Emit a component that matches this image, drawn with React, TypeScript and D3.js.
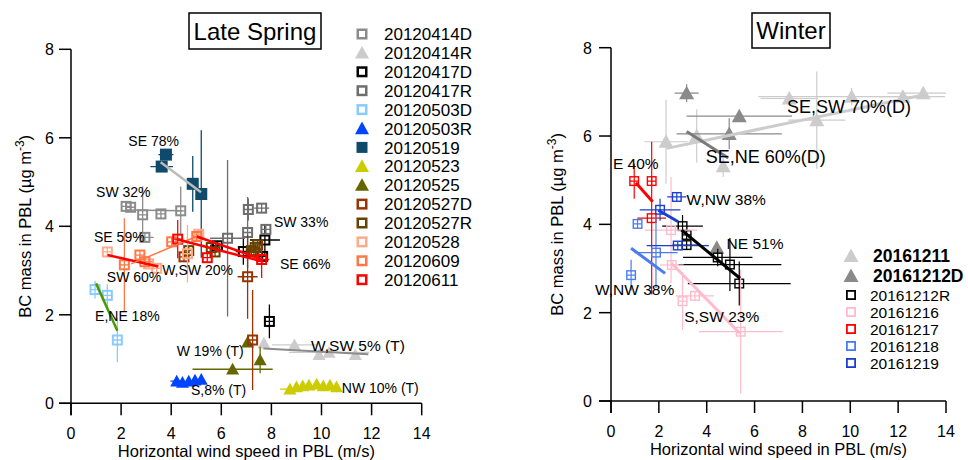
import React from 'react';
import * as d3 from 'd3';

// [wind speed, BC mass, wind error, BC error]
type Pt = [number, number, number, number];

// ---------- Late spring ----------
const s20120414D: Pt[] = [
  [2.2, 4.45, 0, 0], [2.38, 4.43, 0, 0], [2.86, 4.26, 0, 0.64], [3.59, 4.28, 0, 0],
  [4.38, 4.35, 0, 0.55], [2.95, 3.75, 0.35, 0],
];
const s20120414R: Pt[] = [
  [7.7, 1.36, 0, 0], [8.92, 1.32, 0.9, 0], [9.9, 1.1, 0, 0], [10.3, 1.15, 1.6, 0], [11.35, 1.1, 0, 0],
];
const s20120417D: Pt[] = [
  [5.85, 3.56, 0.3, 0], [6.88, 3.43, 0.3, 0.3], [7.74, 3.69, 0.6, 0.35], [7.65, 3.32, 0, 0], [7.92, 1.85, 0, 0.38],
];
const s20120417R: Pt[] = [
  [7.08, 4.38, 0, 0.25], [7.61, 4.41, 0.3, 0], [7.05, 3.86, 0, 0.8], [7.78, 3.93, 0, 0], [6.25, 3.73, 0.7, 1.77],
];
const s20120503D: Pt[] = [
  [0.96, 2.57, 0, 0.2], [1.45, 2.44, 0.2, 0.25], [1.85, 1.43, 0, 0.5],
];
const s20120503R: Pt[] = [
  [4.22, 0.5, 0.25, 0], [4.45, 0.47, 0, 0], [4.7, 0.5, 0, 0], [4.95, 0.52, 0, 0], [5.2, 0.54, 0, 0],
];
const s20120519: Pt[] = [
  [3.79, 5.62, 0.3, 0.1], [3.62, 5.35, 0.45, 0], [4.86, 4.96, 0, 0.63], [5.2, 4.73, 0, 1.44],
];
const s20120523: Pt[] = [
  [8.74, 0.32, 0.4, 0], [9.0, 0.37, 0, 0], [9.25, 0.39, 0, 0], [9.5, 0.41, 0, 0], [9.81, 0.43, 0, 0],
  [10.07, 0.39, 0, 0], [10.34, 0.41, 0, 0], [10.6, 0.37, 0, 0],
];
const s20120525: Pt[] = [
  [6.45, 0.77, 1.6, 0], [7.55, 0.98, 0, 0.3], [7.05, 1.38, 0, 0],
];
const s20120527D: Pt[] = [
  [4.51, 3.31, 0, 0], [7.05, 2.86, 0.4, 0.95], [7.25, 1.43, 0, 1.13], [7.3, 3.42, 0, 0],
];
const s20120527R: Pt[] = [
  [4.7, 3.45, 0, 0], [5.6, 3.52, 0, 0], [5.75, 3.42, 0, 0], [7.2, 3.45, 0, 0], [7.35, 3.52, 0, 0], [7.45, 3.58, 0, 0],
];
const s20120528: Pt[] = [
  [1.45, 3.42, 0, 0], [3.1, 3.15, 0, 0], [3.42, 3.05, 0, 0], [4.65, 3.38, 0, 0.65], [5.1, 3.82, 0, 0],
];
const s20120609: Pt[] = [
  [2.13, 3.13, 0, 1.05], [2.75, 3.35, 0, 0], [2.95, 3.2, 0.3, 0], [4.02, 3.65, 0, 0], [5.02, 3.77, 0, 0],
];
const s20120611: Pt[] = [
  [4.26, 3.71, 0, 0.43], [5.44, 3.29, 0, 0], [7.61, 3.25, 0.3, 0.42],
];

// fitted trend lines: [x1, y1, x2, y2]
const springFitColors = ['#bbbbbb', '#8c8c8c', '#4a9a00', '#ff0000', '#ff7744', '#ff0000', '#ff0000', '#8c8c8c'];
const springFits: number[][] = [
  [3.58, 5.45, 5.19, 4.77],
  [2.22, 4.37, 4.45, 4.35],
  [1.0, 2.71, 1.85, 1.64],
  [1.46, 3.35, 3.49, 3.09],
  [2.4, 3.15, 5.05, 3.78],
  [4.26, 3.7, 7.68, 3.2],
  [5.02, 3.77, 7.61, 3.26],
  [7.68, 1.24, 11.87, 1.11],
];
const springWidths = [2.5, 1.5, 2.5, 2.5, 1.5, 2.5, 2.5, 2];

const springLabels = ['SE 78%', 'SW 32%', 'SW 33%', 'SE 59%', 'SE 66%', 'SW 60%', 'W,SW 20%', 'E,NE 18%', 'W 19% (T)', 'W,SW 5% (T)', 'S,8% (T)', 'NW 10% (T)'];
const springLabelPos: number[][] = [
  [2.29, 5.93], [1.0, 4.78], [8.1, 4.1], [0.92, 3.75], [8.34, 3.15], [1.43, 2.86],
  [3.64, 3.01], [0.96, 1.97], [4.22, 1.19], [9.58, 1.3], [4.79, 0.3], [10.81, 0.34],
];
const springLabelSize = [14, 14, 14, 14, 14, 14, 14, 14, 14, 15.5, 14, 14];

// ---------- Winter ----------
const w20161211: Pt[] = [
  [2.3, 5.87, 0.9, 0.95], [3.58, 6.0, 0, 0.6], [4.69, 5.32, 0, 0.25], [7.45, 6.85, 1.2, 0],
  [8.6, 6.36, 1.2, 1.1], [10.06, 6.89, 3.9, 0.2], [12.2, 6.89, 1.0, 0], [13.05, 6.97, 1.5, 0],
];
const w20161212D: Pt[] = [
  [3.16, 6.97, 0.5, 0.2], [5.36, 6.45, 2.2, 0], [4.94, 6.05, 2.2, 0.35], [4.42, 3.47, 0, 0],
];
const w20161212R: Pt[] = [
  [2.99, 3.96, 0.85, 0.25], [3.16, 3.76, 0, 0], [3.16, 3.53, 0.6, 0], [4.46, 3.25, 1.45, 0.2],
  [4.97, 3.09, 2.15, 0.6], [5.36, 2.66, 2.15, 0.5],
];
const w20161216: Pt[] = [
  [2.51, 3.87, 1.1, 1.2], [2.54, 3.08, 0.5, 0], [2.99, 2.26, 0, 0.65], [3.51, 2.38, 0.8, 0], [5.42, 1.57, 1.75, 1.4],
];
const w20161217: Pt[] = [
  [0.97, 4.98, 0, 0.4], [1.7, 4.98, 0, 0], [1.7, 4.14, 0.6, 1.73],
];
const w20161218: Pt[] = [
  [1.11, 4.01, 0, 0], [1.88, 3.36, 0.9, 0.8], [0.84, 2.85, 0, 0.35],
];
const w20161219: Pt[] = [
  [2.05, 4.33, 0.85, 0.25], [2.75, 4.62, 0.4, 0], [2.79, 3.52, 1.3, 0],
];

const winterFitColors = ['#cccccc', '#7a7a7a', '#000000', '#ffbbcc', '#ff0000', '#1a3fd0', '#4a7cf0'];
const winterFits: number[][] = [
  [2.33, 5.72, 13.05, 6.93],
  [3.16, 6.1, 4.9, 5.5],
  [2.95, 3.87, 5.39, 2.78],
  [2.53, 3.12, 5.39, 1.53],
  [1.04, 4.94, 1.74, 4.51],
  [1.98, 4.32, 2.81, 4.06],
  [0.84, 3.46, 2.26, 2.89],
];

const winterLabels = ['SE,SW 70%(D)', 'SE,NE 60%(D)', 'E 40%', 'W,NW 38%', 'NE 51%', 'W,NW 38%', 'S,SW 23%'];
const winterLabelPos: number[][] = [
  [7.35, 6.66], [3.96, 5.53], [0.08, 5.37], [3.16, 4.57], [4.83, 3.57], [-0.67, 2.53], [3.06, 1.92],
];
const winterLabelSize = [18, 18, 15.5, 15.5, 15.5, 15.5, 15.5];

const xTicks = [0, 2, 4, 6, 8, 10, 12, 14];
const yTicks = [0, 2, 4, 6, 8];

type Shape = 'open' | 'filled' | 'tri';
interface Series { name: string; color: string; shape: Shape; pts: Pt[]; bold?: boolean }

const springSeries: Series[] = [
  { name: '20120414D', color: '#8c8c8c', shape: 'open', pts: s20120414D },
  { name: '20120414R', color: '#cccccc', shape: 'tri', pts: s20120414R },
  { name: '20120417D', color: '#000000', shape: 'open', pts: s20120417D },
  { name: '20120417R', color: '#6e6e6e', shape: 'open', pts: s20120417R },
  { name: '20120503D', color: '#88ccff', shape: 'open', pts: s20120503D },
  { name: '20120503R', color: '#0044ff', shape: 'tri', pts: s20120503R },
  { name: '20120519', color: '#0d4a6c', shape: 'filled', pts: s20120519 },
  { name: '20120523', color: '#cccc00', shape: 'tri', pts: s20120523 },
  { name: '20120525', color: '#666600', shape: 'tri', pts: s20120525 },
  { name: '20120527D', color: '#993300', shape: 'open', pts: s20120527D },
  { name: '20120527R', color: '#664400', shape: 'open', pts: s20120527R },
  { name: '20120528', color: '#ffaa88', shape: 'open', pts: s20120528 },
  { name: '20120609', color: '#ff7744', shape: 'open', pts: s20120609 },
  { name: '20120611', color: '#ff0000', shape: 'open', pts: s20120611 },
];

const winterSeries: Series[] = [
  { name: '20161211', color: '#cccccc', shape: 'tri', pts: w20161211, bold: true },
  { name: '20161212D', color: '#8a8a8a', shape: 'tri', pts: w20161212D, bold: true },
  { name: '20161212R', color: '#000000', shape: 'open', pts: w20161212R },
  { name: '20161216', color: '#ffbbcc', shape: 'open', pts: w20161216 },
  { name: '20161217', color: '#ff0000', shape: 'open', pts: w20161217 },
  { name: '20161218', color: '#4a7cf0', shape: 'open', pts: w20161218 },
  { name: '20161219', color: '#1a3fd0', shape: 'open', pts: w20161219 },
];

const FONT = 'Liberation Sans, Arial, sans-serif';

function Marker({ shape, color, x, y, size, sw }: { shape: Shape; color: string; x: number; y: number; size: number; sw: number }) {
  if (shape === 'tri') {
    const h = size * 0.9;
    return <path d={`M${x},${y - h * 0.55}L${x + size / 2},${y + h * 0.45}L${x - size / 2},${y + h * 0.45}Z`} fill={color} />;
  }
  if (shape === 'filled') {
    return <rect x={x - size / 2} y={y - size / 2} width={size} height={size} fill={color} />;
  }
  const s = size - sw;
  return <rect x={x - s / 2} y={y - s / 2} width={s} height={s} fill="none" stroke={color} strokeWidth={sw} />;
}

interface PanelProps {
  id: string;
  x0: number; x1: number; y0: number; y1: number;
  series: Series[];
  fits: number[][]; fitColors: string[]; fitWidths: number[];
  labels: string[]; labelPos: number[][]; labelSize: number[];
  msize: number; msw: number; triSize: number; ebw: number; filledSize: number;
  title: string; titleBox: [number, number, number, number];
  yLabelX: number; yTickLabelX: number;
}

function Panel(p: PanelProps) {
  const xs = d3.scaleLinear().domain([0, 14]).range([p.x0, p.x1]);
  const ys = d3.scaleLinear().domain([0, 8]).range([p.y0, p.y1]);
  const line = d3.line<number[]>().x(d => xs(d[0])).y(d => ys(d[1]));
  const tick = 12;
  const midX = (p.x0 + p.x1) / 2;
  const midY = (p.y0 + p.y1) / 2;
  const [bx, by, bw, bh] = p.titleBox;
  return (
    <g>
      <defs>
        <clipPath id={p.id}>
          <rect x={p.x0} y={p.y1 - 10} width={p.x1 - p.x0} height={p.y0 - p.y1 + 10} />
        </clipPath>
      </defs>
      <g clipPath={`url(#${p.id})`}>
        {p.series.map(s => (
          <g key={s.name}>
            {s.pts.map((d, i) => {
              const cx = xs(d[0]), cy = ys(d[1]);
              const h = s.shape === 'open' ? (p.msize - p.msw) / 2 : 0;
              const ex = Math.max(xs(d[0] + d[2]) - cx, h);
              const ey = Math.max(cy - ys(d[1] + d[3]), h);
              return (
                <g key={i} stroke={s.color} strokeWidth={p.ebw}>
                  {ex > 0 && <line x1={cx - ex} x2={cx + ex} y1={cy} y2={cy} />}
                  {ey > 0 && <line x1={cx} x2={cx} y1={cy - ey} y2={cy + ey} />}
                </g>
              );
            })}
            {s.pts.map((d, i) => (
              <Marker key={i} shape={s.shape} color={s.color} x={xs(d[0])} y={ys(d[1])}
                size={s.shape === 'tri' ? p.triSize : s.shape === 'filled' ? p.filledSize : p.msize} sw={p.msw} />
            ))}
          </g>
        ))}
        {p.fits.map((f, i) => (
          <path key={i} d={line([[f[0], f[1]], [f[2], f[3]]]) || ''} stroke={p.fitColors[i]}
            strokeWidth={p.fitWidths[i]} fill="none" />
        ))}
      </g>
      {p.labels.map((t, i) => (
        <text key={i} x={xs(p.labelPos[i][0])} y={ys(p.labelPos[i][1])} dy="0.35em"
          fontSize={p.labelSize[i]} fontFamily={FONT} fill="#000">{t}</text>
      ))}
      {/* axes */}
      <g stroke="#000" strokeWidth={1.5}>
        <line x1={p.x0} x2={p.x0} y1={p.y1} y2={p.y0 + tick} />
        <line x1={p.x0 - tick} x2={p.x1} y1={p.y0} y2={p.y0} />
        {xTicks.map(t => <line key={'x' + t} x1={xs(t)} x2={xs(t)} y1={p.y0} y2={p.y0 + tick} />)}
        {yTicks.map(t => <line key={'y' + t} x1={p.x0 - tick} x2={p.x0} y1={ys(t)} y2={ys(t)} />)}
      </g>
      <g fontFamily={FONT} fontSize={16} fill="#000">
        {xTicks.map(t => (
          <text key={'xl' + t} x={xs(t)} y={p.y0 + 36} textAnchor="middle">{t}</text>
        ))}
        {yTicks.map(t => (
          <text key={'yl' + t} x={p.yTickLabelX} y={ys(t) + 6} textAnchor="end">{t}</text>
        ))}
        <text x={midX} y={p.y0 + 54} textAnchor="middle" fontSize={16.5}>Horizontal wind speed in PBL (m/s)</text>
        <text transform={`translate(${p.yLabelX},${midY}) rotate(-90)`} textAnchor="middle" fontSize={16.5}>
          BC mass in PBL (µg m<tspan dy={-7} fontSize={12}>-3</tspan><tspan dy={7}>)</tspan>
        </text>
      </g>
      <rect x={bx} y={by} width={bw} height={bh} fill="#fff" stroke="#000" strokeWidth={1.5} />
      <text x={bx + bw / 2} y={by + bh / 2} dy="0.36em" textAnchor="middle" fontFamily={FONT} fontSize={24}>{p.title}</text>
    </g>
  );
}

function Legend({ series, x, tx, y0, dy, fontSize, boldSize, msize, msw, triSize, rowYs }:
  { series: Series[]; x: number; tx: number; y0: number; dy: number; fontSize: number; boldSize?: number; msize: number; msw: number; triSize: number; rowYs?: number[] }) {
  return (
    <g fontFamily={FONT}>
      {series.map((s, i) => {
        const y = rowYs ? rowYs[i] : y0 + i * dy;
        return (
          <g key={s.name}>
            <Marker shape={s.shape} color={s.color} x={x} y={y} size={s.shape === 'tri' ? triSize : msize} sw={msw} />
            <text x={s.bold ? tx + 3 : tx} y={y} dy="0.36em" fontSize={s.bold ? boldSize : fontSize}
              fontWeight={s.bold ? 'bold' : 'normal'} fill="#000">{s.name}</text>
          </g>
        );
      })}
    </g>
  );
}

export default function App() {
  return (
    <svg width={968} height={460} viewBox="0 0 968 460"
      style={{ position: 'absolute', left: 0, top: 0, background: '#fff' }}>
      <rect width={968} height={460} fill="#fff" />
      <Panel id="clipSpring" x0={71} x1={421.7} y0={403.3} y1={49.3}
        series={springSeries} fits={springFits} fitColors={springFitColors} fitWidths={springWidths}
        labels={springLabels} labelPos={springLabelPos} labelSize={springLabelSize}
        msize={11} msw={2} triSize={13} ebw={1.3} filledSize={12}
        title="Late Spring" titleBox={[189, 13, 132, 36]} yLabelX={31} yTickLabelX={54} />
      <Panel id="clipWinter" x0={611} x1={946} y0={401} y1={47.7}
        series={winterSeries} fits={winterFits} fitColors={winterFitColors} fitWidths={winterFits.map(() => 3)}
        labels={winterLabels} labelPos={winterLabelPos} labelSize={winterLabelSize}
        msize={10} msw={1.4} triSize={15} ebw={1.2} filledSize={12}
        title="Winter" titleBox={[752, 13, 78, 35]} yLabelX={563} yTickLabelX={592} />
      <Legend series={springSeries} x={362} tx={384} y0={34} dy={18.9} fontSize={17} msize={11} msw={2.5} triSize={14} />
      <Legend series={winterSeries} x={851} tx={870} y0={0} dy={0} fontSize={15.5} boldSize={17.5}
        msize={10} msw={1.8} triSize={15} rowYs={[256, 276, 295, 312, 329, 346, 363]} />
    </svg>
  );
}
